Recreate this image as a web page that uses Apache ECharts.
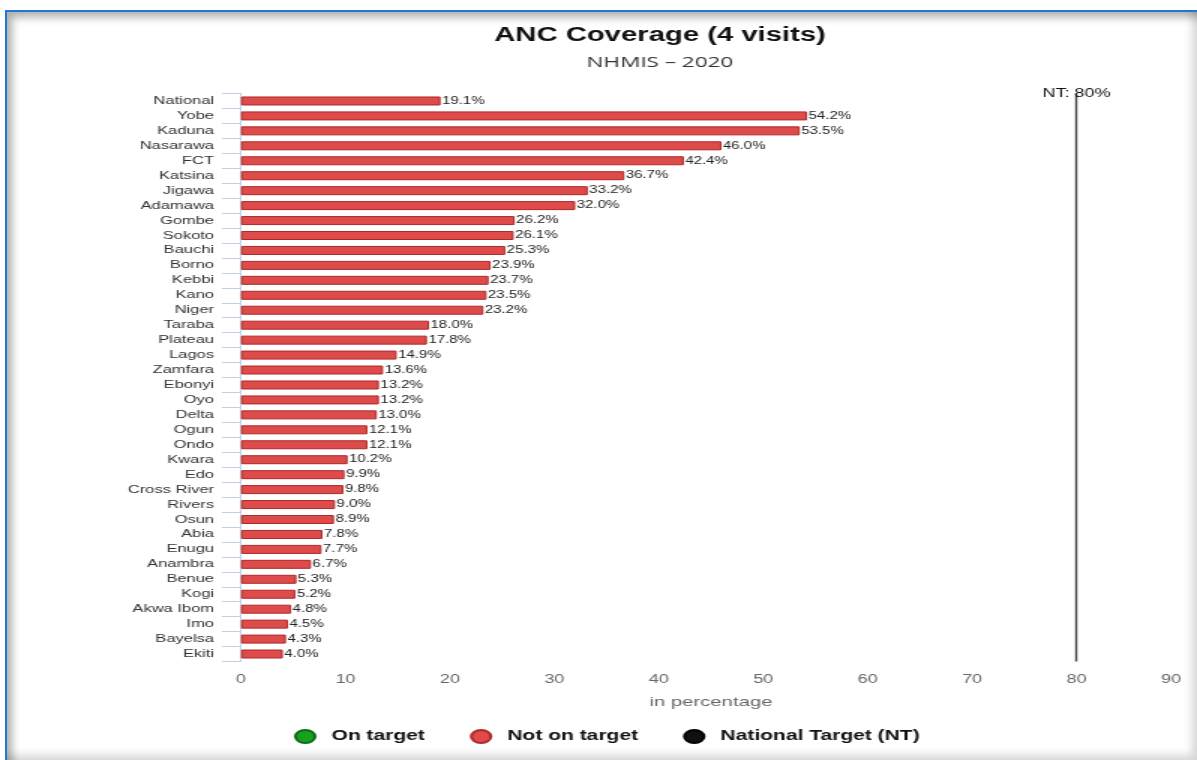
<!DOCTYPE html>
<html>
<head>
<meta charset="utf-8">
<script src="https://cdn.jsdelivr.net/npm/echarts@6/dist/echarts.min.js"></script>
<style>
  html, body { margin: 0; padding: 0; background: #ffffff; overflow: hidden; }
  #frame {
    position: absolute; left: 5px; top: 10px; width: 1192px; height: 750px;
    box-sizing: border-box;
    border-left: 2px solid #1f78d1; border-top: 2px solid #1f78d1;
    box-shadow: inset 7px 7px 9px -2px rgba(0,0,0,0.32), inset -7px -7px 9px -2px rgba(0,0,0,0.16);
    background: #ffffff;
  }
  /* the chart is drawn on a narrower canvas and widened 1.5x */
  #chart {
    position: absolute; left: 0; top: 0; width: 798px; height: 760px;
    transform: scaleX(1.5); transform-origin: 0 0;
  }
</style>
</head>
<body>
<div id="frame"></div>
<div id="chart"></div>
<script>
// States ordered as published, national figure first
const states = ['National', 'Yobe', 'Kaduna', 'Nasarawa', 'FCT', 'Katsina', 'Jigawa', 'Adamawa',
  'Gombe', 'Sokoto', 'Bauchi', 'Borno', 'Kebbi', 'Kano', 'Niger', 'Taraba', 'Plateau', 'Lagos',
  'Zamfara', 'Ebonyi', 'Oyo', 'Delta', 'Ogun', 'Ondo', 'Kwara', 'Edo', 'Cross River', 'Rivers',
  'Osun', 'Abia', 'Enugu', 'Anambra', 'Benue', 'Kogi', 'Akwa Ibom', 'Imo', 'Bayelsa', 'Ekiti'];

// ANC 4th visit coverage, percent
const coverage = [19.1, 54.2, 53.5, 46.0, 42.4, 36.7, 33.2, 32.0,
  26.2, 26.1, 25.3, 23.9, 23.7, 23.5, 23.2, 18.0, 17.8, 14.9,
  13.6, 13.2, 13.2, 13.0, 12.1, 12.1, 10.2, 9.9, 9.8, 9.0,
  8.9, 7.8, 7.7, 6.7, 5.3, 5.2, 4.8, 4.5, 4.3, 4.0];

const nationalTarget = 80;
const xTicks = [0, 10, 20, 30, 40, 50, 60, 70, 80, 90];

const chart = echarts.init(document.getElementById('chart'));
const font = '"Liberation Sans", Arial, sans-serif';

chart.setOption({
  animation: false,
  textStyle: { fontFamily: font },
  title: [
    { text: 'ANC Coverage (4 visits)', left: 435, top: 21, textAlign: 'center',
      textStyle: { fontFamily: font, fontSize: 19.5, fontWeight: 'bold', color: '#111' } },
    { text: 'NHMIS – 2020', left: 435, top: 50, textAlign: 'center',
      textStyle: { fontFamily: '"Open Sans", "Liberation Sans", sans-serif', fontSize: 15, fontWeight: 'normal', color: '#333' } }
  ],
  legend: {
    left: 191, top: 724, icon: 'circle', itemWidth: 13, itemHeight: 13, itemGap: 30,
    textStyle: { fontFamily: font, fontSize: 14, fontWeight: 'bold', color: '#111', padding: [0, 0, 0, 6] },
    data: ['On target', 'Not on target', 'National Target (NT)']
  },
  grid: { left: 160.7, right: 10.7, top: 93.5, bottom: 98.5, containLabel: false },
  xAxis: {
    type: 'value', min: xTicks[0], max: xTicks[xTicks.length - 1], interval: 10,
    name: 'in percentage', nameLocation: 'middle', nameGap: 34,
    nameTextStyle: { fontFamily: font, fontSize: 13.5, color: '#666' },
    axisLine: { show: false }, axisTick: { show: false }, splitLine: { show: false },
    axisLabel: { fontSize: 12, color: '#666', margin: 12, alignMaxLabel: 'right' }
  },
  yAxis: {
    type: 'category', data: states, inverse: true,
    axisLine: { show: true, lineStyle: { color: '#c0d0e0', width: 1 } },
    axisTick: { show: true, length: 12.7, lineStyle: { color: '#c0d0e0' } },
    axisLabel: { fontSize: 11, color: '#333', margin: 18 }
  },
  series: [
    { name: 'On target', type: 'scatter', data: [],
      itemStyle: { color: '#17a11f', borderColor: '#0d6b12', borderWidth: 1, opacity: 1 } },
    {
      name: 'Not on target', type: 'bar', data: coverage, barWidth: 9,
      itemStyle: { color: '#dd4b4b', borderColor: '#b02828', borderWidth: 1 },
      label: { show: true, position: 'right', distance: 1, fontSize: 10, color: '#222',
        formatter: p => p.value.toFixed(1) + '%' }
    },
    {
      name: 'National Target (NT)', type: 'scatter', data: [],
      itemStyle: { color: '#111', borderColor: '#000', borderWidth: 1, opacity: 1 },
      markLine: {
        silent: true, symbol: 'none',
        lineStyle: { color: '#444', width: 1.4, type: 'solid' },
        label: { show: true, position: 'start', distance: -6, fontSize: 12, color: '#111',
          formatter: 'NT: ' + nationalTarget + '%' },
        data: [{ xAxis: nationalTarget }]
      }
    }
  ]
});
</script>
</body>
</html>
